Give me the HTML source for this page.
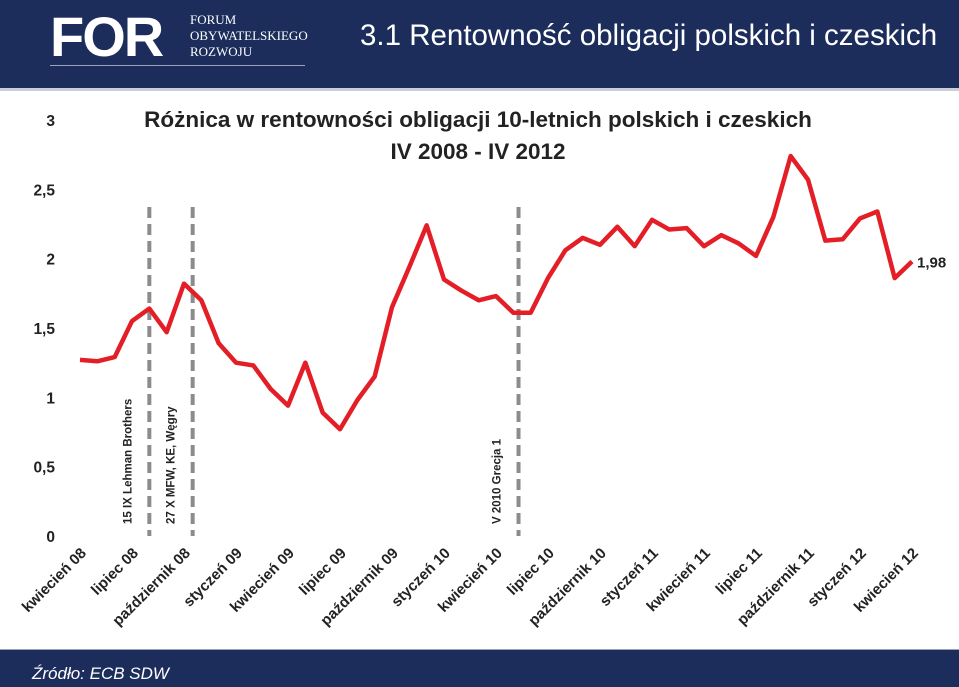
<!DOCTYPE html>
<html><head><meta charset="utf-8"><style>
html,body{margin:0;padding:0;width:959px;height:686px;overflow:hidden;background:#fff;font-family:"Liberation Sans",sans-serif}
#hdr{position:absolute;left:0;top:0;width:959px;height:88px;background:#1c2d5c;border-bottom:3px solid #c9ced8}
#ftr{position:absolute;left:0;top:649px;width:959px;height:37px;background:#1c2d5c;border-top:1px solid #9aa3b8}
</style></head><body>
<div id="hdr">
 <div style="position:absolute;left:50px;top:8px;width:260px;height:60px">
  <div style="position:absolute;left:0;top:-4px;font:900 56px 'Liberation Sans',sans-serif;color:#fff;letter-spacing:-2px">FOR</div>
  <div style="position:absolute;left:140px;top:4px;font:13px 'Liberation Serif',serif;color:#fff;line-height:16px">FORUM<br>OBYWATELSKIEGO<br>ROZWOJU</div>
  <div style="position:absolute;left:0;top:57px;width:255px;height:1px;background:#9aa3b8"></div>
 </div>
 <div style="position:absolute;left:360px;top:19px;font-size:29.5px;color:#fff;white-space:nowrap">3.1 Rentowność obligacji polskich i czeskich</div>
</div>
<div id="ftr">
 <div style="position:absolute;left:32px;top:14px;font-style:italic;font-size:17px;color:#fff">Źródło: ECB SDW</div>
</div>
<svg id="chart" width="959" height="686" style="position:absolute;left:0;top:0">
 <text x="478" y="127" text-anchor="middle" font-size="22.5" font-weight="bold" fill="#222">Różnica w rentowności obligacji 10-letnich polskich i czeskich</text>
 <text x="478" y="159" text-anchor="middle" font-size="22.5" font-weight="bold" fill="#222">IV 2008 - IV 2012</text>
</svg>
<script>
const categories=["kwiecień 08","maj 08","czerwiec 08","lipiec 08","sierpień 08","wrzesień 08","październik 08","listopad 08","grudzień 08","styczeń 09","luty 09","marzec 09","kwiecień 09","maj 09","czerwiec 09","lipiec 09","sierpień 09","wrzesień 09","październik 09","listopad 09","grudzień 09","styczeń 10","luty 10","marzec 10","kwiecień 10","maj 10","czerwiec 10","lipiec 10","sierpień 10","wrzesień 10","październik 10","listopad 10","grudzień 10","styczeń 11","luty 11","marzec 11","kwiecień 11","maj 11","czerwiec 11","lipiec 11","sierpień 11","wrzesień 11","październik 11","listopad 11","grudzień 11","styczeń 12","luty 12","marzec 12","kwiecień 12"];
const values=[1.27,1.26,1.29,1.55,1.64,1.47,1.82,1.70,1.39,1.25,1.23,1.06,0.94,1.25,0.89,0.77,0.98,1.15,1.65,1.94,2.24,1.85,1.77,1.70,1.73,1.61,1.61,1.86,2.06,2.15,2.10,2.23,2.09,2.28,2.21,2.22,2.09,2.17,2.11,2.02,2.30,2.74,2.57,2.13,2.14,2.29,2.34,1.86,1.98];
const yTicks=[0,0.5,1,1.5,2,2.5,3];
const yTickLabels=["0","0,5","1","1,5","2","2,5","3"];
const events=[4.0,6.5,25.3];
const eventLabels=["15 IX Lehman Brothers","27 X MFW, KE, Węgry","V 2010 Grecja 1"];
const lastLabel="1,98";
const svg=document.getElementById('chart');
const NS='http://www.w3.org/2000/svg';
const x=i=>80+i*(912-80)/(categories.length-1);
const y=v=>536-v*(536-120)/3;
function mk(t,a){const e=document.createElementNS(NS,t);for(const k in a)e.setAttribute(k,a[k]);svg.appendChild(e);return e;}
yTicks.forEach((t,i)=>{const e=mk('text',{x:55,y:y(t)+6,'text-anchor':'end','font-size':15.5,'font-weight':'bold',fill:'#222'});e.textContent=yTickLabels[i];

});
categories.forEach((c,i)=>{if(i%3)return;const e=mk('text',{transform:`translate(${x(i)+7},${554}) rotate(-45)`,'text-anchor':'end','font-size':15,'font-weight':'bold',fill:'#222'});e.textContent=c;

});
events.forEach((ev,i)=>{const l=mk('line',{x1:x(ev),x2:x(ev),y1:207,y2:536,stroke:'#8c8c8c','stroke-width':4,'stroke-dasharray':'11,6'});


const t=mk('text',{transform:`translate(${x(ev)-18},524) rotate(-90)`,'font-size':11.5,'font-weight':'bold',fill:'#222'});t.textContent=eventLabels[i];

});
const p=mk('polyline',{points:values.map((v,i)=>x(i)+','+y(v)).join(' '),fill:'none',stroke:'#e41e26','stroke-width':4.5,'stroke-linejoin':'round'});


const n=values.length-1;
const lt=mk('text',{x:x(n)+5,y:y(values[n])+6,'font-size':15,'font-weight':'bold',fill:'#222'});lt.textContent=lastLabel;


</script>
</body></html>
